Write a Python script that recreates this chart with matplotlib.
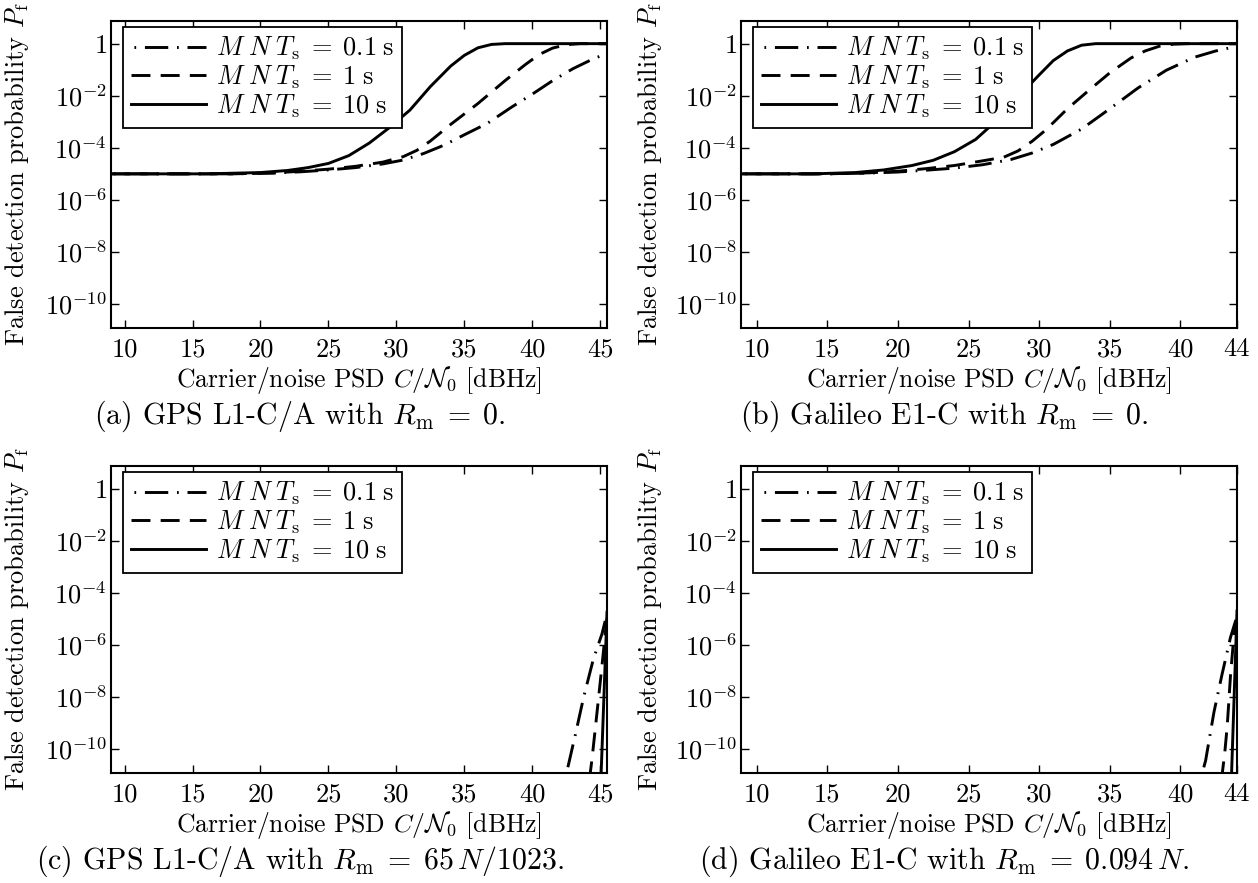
import numpy as np
import matplotlib
matplotlib.use("Agg")
import matplotlib.pyplot as plt

plt.rcParams['font.family'] = 'cmr10'
plt.rcParams['mathtext.fontset'] = 'cm'
plt.rcParams['axes.formatter.use_mathtext'] = True

# C/N0 [dBHz] and log10(P_f)

# (a) GPS L1-C/A, R_m = 0
a_x_01 = [9, 18, 21, 23, 25, 27, 29, 30.5, 32, 33.5, 35, 36.7, 38.5, 40, 41.5, 43, 44.5, 45.5]
a_y_01 = [-5, -5, -4.97, -4.92, -4.85, -4.76, -4.62, -4.47, -4.22, -3.9, -3.5, -3.06, -2.43, -1.94, -1.42, -0.96, -0.58, -0.38]
a_x_1 = [9, 18, 21, 23, 25, 27, 29, 30.5, 31.5, 32.5, 34, 36, 38, 39.5, 40.5, 41.5, 42.5, 43.5, 45.5]
a_y_1 = [-5, -5, -4.96, -4.9, -4.82, -4.71, -4.55, -4.34, -4.1, -3.74, -3.1, -2.3, -1.42, -0.8, -0.42, -0.17, -0.04, 0, 0]
a_x_10 = [9, 16, 20, 22, 23.5, 25, 26.5, 28, 29.5, 31, 32.5, 34, 35, 36, 37, 38, 45.5]
a_y_10 = [-5, -5, -4.95, -4.87, -4.76, -4.6, -4.3, -3.82, -3.22, -2.55, -1.65, -0.86, -0.45, -0.16, -0.03, 0, 0]

# (b) Galileo E1-C, R_m = 0
b_x_01 = [9, 15, 18, 20, 22, 24, 26, 28, 29.5, 31, 33, 35, 37, 39, 41, 42.5, 44]
b_y_01 = [-5, -5, -4.97, -4.93, -4.86, -4.78, -4.65, -4.45, -4.2, -3.87, -3.28, -2.5, -1.7, -1.02, -0.52, -0.28, -0.1]
b_x_1 = [9, 15, 18, 20, 22, 24, 26, 27.5, 28.5, 29.5, 30.5, 32, 33.5, 35, 36.5, 37.5, 38.5, 39.5, 40.5, 44]
b_y_1 = [-5, -5, -4.96, -4.9, -4.8, -4.68, -4.5, -4.36, -4.12, -3.75, -3.3, -2.5, -1.8, -1.12, -0.55, -0.28, -0.1, -0.02, 0, 0]
b_x_10 = [9, 14, 17, 19, 21, 22.5, 24, 25.5, 27, 28.5, 30, 31, 32, 33, 34, 44]
b_y_10 = [-5, -5, -4.95, -4.85, -4.68, -4.48, -4.15, -3.68, -2.95, -2.05, -1.2, -0.65, -0.28, -0.06, 0, 0]

# (c) GPS L1-C/A, R_m = 65 N/1023
c_x_01 = [42.4, 43.17, 43.78, 44.5, 45.13, 45.5]
c_y_01 = [-11.2, -9.45, -8.01, -6.54, -5.58, -4.8]
c_x_1 = [44.2, 44.4, 44.77, 45.13, 45.38, 45.5]
c_y_1 = [-11.2, -10.37, -8.57, -6.8, -5.52, -5.0]
c_x_10 = [45.05, 45.5]
c_y_10 = [-11.2, -4.75]

# (d) Galileo E1-C, R_m = 0.094 N
d_x_01 = [41.4, 41.78, 42.37, 42.95, 43.54, 44.0]
d_y_01 = [-11.2, -10.44, -8.58, -7.11, -5.71, -4.9]
d_x_1 = [42.9, 43.14, 43.31, 43.54, 43.78, 44.0]
d_y_1 = [-11.2, -10.11, -9.1, -7.18, -5.65, -5.1]
d_x_10 = [43.6, 44.0]
d_y_10 = [-11.2, -4.7]

labels = [r'$M\;N\;T_\mathrm{s}\;=\;0.1\;\mathrm{s}$',
          r'$M\;N\;T_\mathrm{s}\;=\;1\;\mathrm{s}$',
          r'$M\;N\;T_\mathrm{s}\;=\;10\;\mathrm{s}$']
captions = [r'(a) GPS L1-C/A with $R_\mathrm{m}\;=\;0$.',
            r'(b) Galileo E1-C with $R_\mathrm{m}\;=\;0$.',
            r'(c) GPS L1-C/A with $R_\mathrm{m}\;=\;65\,N/1023$.',
            r'(d) Galileo E1-C with $R_\mathrm{m}\;=\;0.094\,N$.']
yticks = [1e-10, 1e-8, 1e-6, 1e-4, 1e-2, 1]
yticklabels = [r'$10^{-10}$', r'$10^{-8}$', r'$10^{-6}$', r'$10^{-4}$', r'$10^{-2}$', r'$1$']
xticks_gps = [10, 15, 20, 25, 30, 35, 40, 45]
xticks_gal = [10, 15, 20, 25, 30, 35, 40, 44]

panels = [
    ((a_x_01, a_y_01), (a_x_1, a_y_1), (a_x_10, a_y_10)),
    ((b_x_01, b_y_01), (b_x_1, b_y_1), (b_x_10, b_y_10)),
    ((c_x_01, c_y_01), (c_x_1, c_y_1), (c_x_10, c_y_10)),
    ((d_x_01, d_y_01), (d_x_1, d_y_1), (d_x_10, d_y_10)),
]
styles = [(10, (8, 3, 0.6, 3)), (0, (6.5, 3.5)), '-']

W, H = 1258, 883
fig = plt.figure(figsize=(W / 100, H / 100), dpi=100)
FS = 19
CFS = 21.5
lefts = [111, 741]
tops = [21, 466]
aw, ah = 496, 307
cap_x = [300, 944]

for i, series in enumerate(panels):
    row, col = divmod(i, 2)
    l, t = lefts[col], tops[row]
    ax = fig.add_axes([l / W, 1 - (t + ah) / H, aw / W, ah / H])
    for (x, y), ls, lab in zip(series, styles, labels):
        ax.semilogy(x, 10 ** np.array(y), color='k', lw=2.1, ls=ls, label=lab)
    ax.set_ylim(10 ** -10.92, 10 ** 0.87)
    if col == 0:
        ax.set_xlim(9, 45.5)
        ax.set_xticks(xticks_gps)
        ax.set_xticklabels([str(v) for v in xticks_gps])
    else:
        ax.set_xlim(8.9, 44)
        ax.set_xticks(xticks_gal)
        ax.set_xticklabels([str(v) for v in xticks_gal])
    ax.set_yticks(yticks)
    ax.set_yticklabels(yticklabels)
    ax.minorticks_off()
    ax.tick_params(direction='in', top=True, right=True, length=6, width=1,
                   labelsize=FS, color='k')
    ax.tick_params(axis='x', pad=7)
    ax.tick_params(axis='y', pad=3)
    for sp in ax.spines.values():
        sp.set_linewidth(1.5)
    ax.set_xlabel(r'Carrier/noise PSD $C/\mathcal{N}_0$ [dBHz]', fontsize=18.5, labelpad=2)
    leg = ax.legend(loc='upper left', bbox_to_anchor=(12 / aw, 1 - 6 / ah),
                    borderaxespad=0, fancybox=False, edgecolor='k', framealpha=1,
                    fontsize=FS, handlelength=2.85, handletextpad=0.38,
                    borderpad=0.3, labelspacing=0.05)
    leg.get_frame().set_linewidth(1.3)
    fig.text((17 + col * 633) / W, 1 - (t + ah / 2) / H,
             r'False detection probability $P_\mathrm{f}$',
             rotation=90, ha='center', va='center', fontsize=FS)
    fig.text(cap_x[col] / W, 1 - (t + 395) / H, captions[i],
             ha='center', va='center', fontsize=CFS)

fig.savefig('out.png', dpi=100)
